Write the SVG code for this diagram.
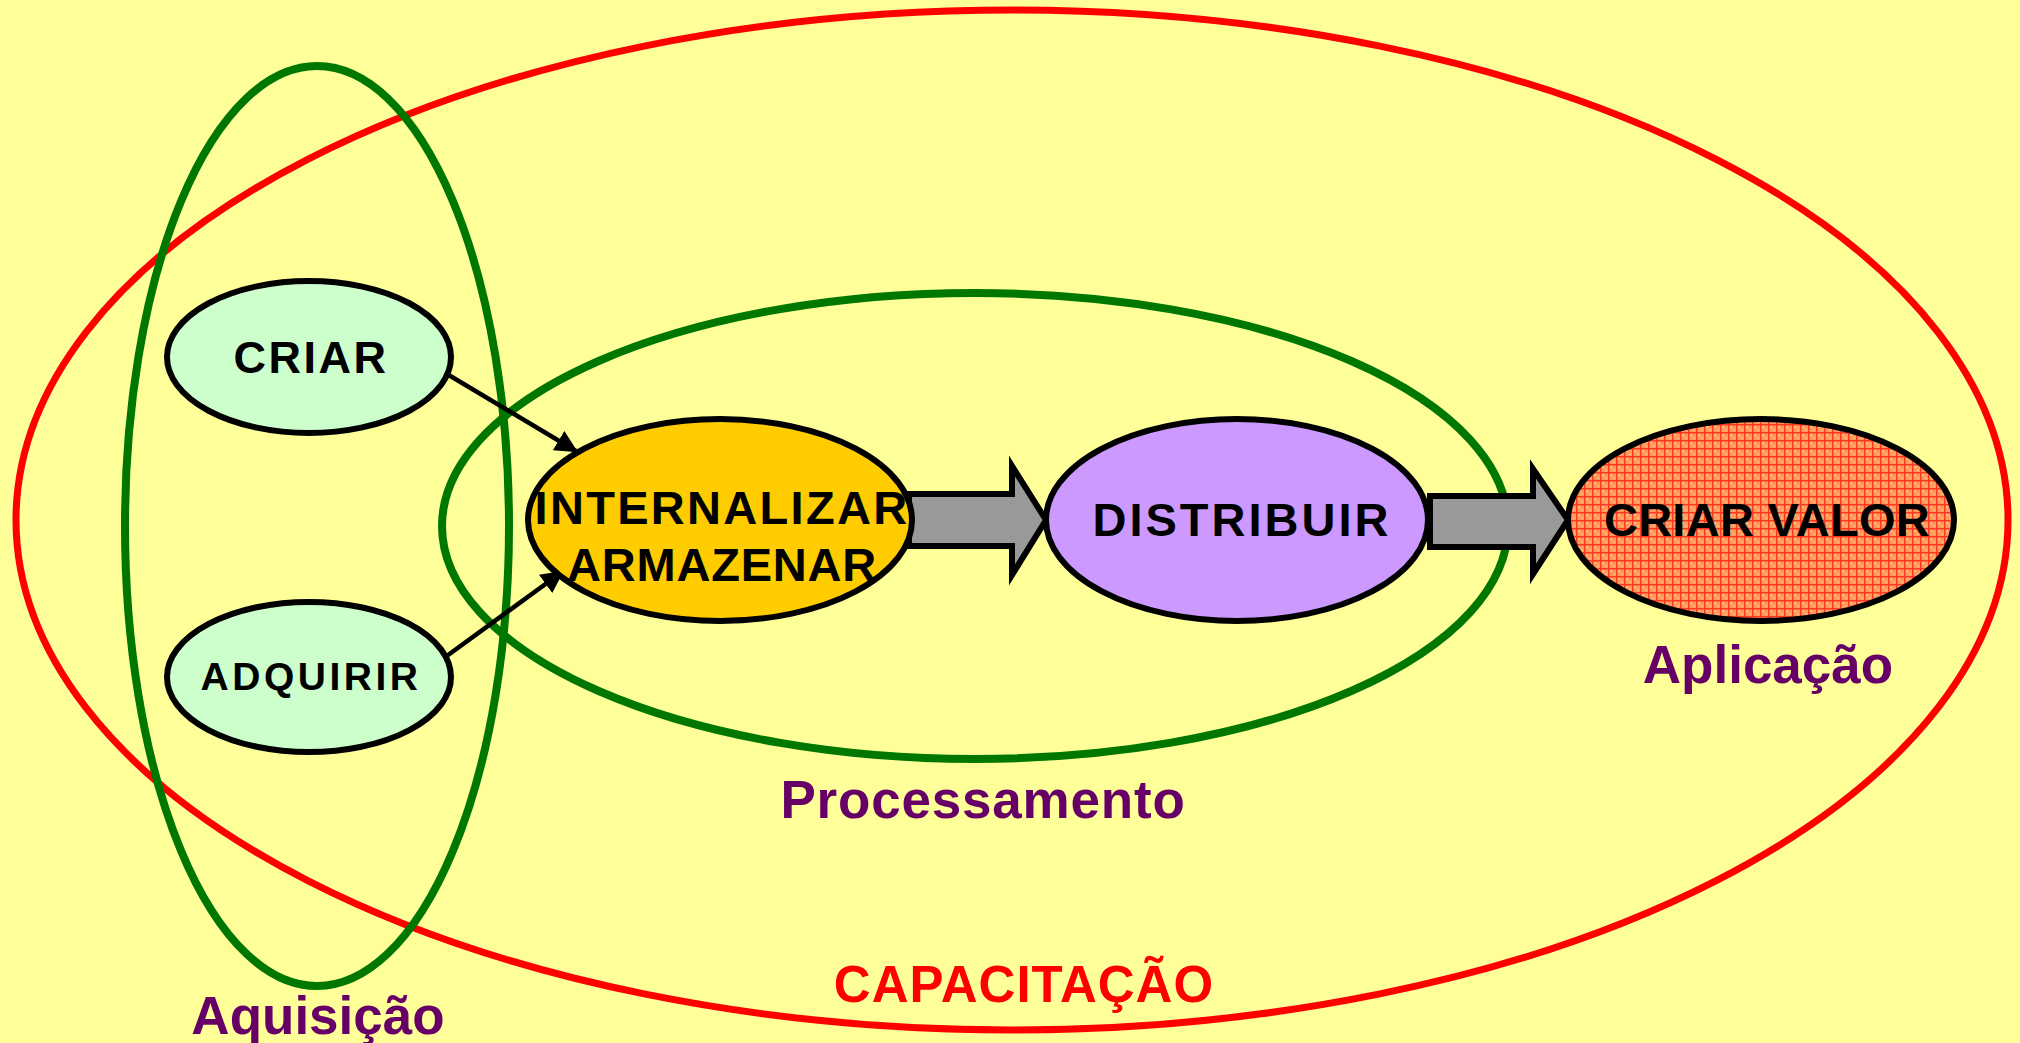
<svg xmlns="http://www.w3.org/2000/svg" width="2020" height="1043" viewBox="0 0 2020 1043">
  <defs>
    <pattern id="grid" width="8" height="8" patternUnits="userSpaceOnUse">
      <rect width="8" height="8" fill="#FF9960"/>
      <rect x="2" y="2" width="2" height="2" fill="#FFC070"/>
      <rect x="5" y="5" width="2" height="2" fill="#FFB868"/>
      <rect x="0" y="0" width="8" height="1.5" fill="#FF3A22"/>
      <rect x="0" y="0" width="1.5" height="8" fill="#FF3A22"/>
    </pattern>
    <marker id="ah" viewBox="0 0 10 10" refX="9" refY="5" markerWidth="5" markerHeight="5" orient="auto" markerUnits="strokeWidth">
      <path d="M0,0 L10,5 L0,10 z" fill="#000"/>
    </marker>
    <style>
      .node { stroke: #000; stroke-width: 6; }
      .lbl { font-family: "Liberation Sans", Arial, sans-serif; font-weight: bold; text-anchor: middle; fill: #000; }
      .grp { font-family: "Liberation Sans", Arial, sans-serif; font-weight: bold; text-anchor: middle; fill: #660066; font-size: 53px; }
      .ring { fill: none; }
      .conn { stroke: #000; stroke-width: 4.5; fill: none; }
      .block { fill: #999999; stroke: #000; stroke-width: 6; stroke-linejoin: miter; }
    </style>
  </defs>
  <rect width="2020" height="1043" fill="#FFFF99"/>

  <g id="capacitacao">
    <ellipse class="ring" cx="1012" cy="520" rx="996" ry="510" stroke="#FF0000" stroke-width="7"/>
    <text x="1024" y="1002" font-family="Liberation Sans, Arial, sans-serif" font-weight="bold" font-size="51" text-anchor="middle" fill="#FF0000" letter-spacing="1">CAPACITAÇÃO</text>
  </g>

  <g id="aquisicao">
    <ellipse class="ring" cx="317" cy="526" rx="192" ry="460" stroke="#007700" stroke-width="8"/>
    <text class="grp" x="318" y="1034">Aquisição</text>
  </g>

  <g id="processamento">
    <ellipse class="ring" cx="975" cy="526" rx="533" ry="233" stroke="#007700" stroke-width="8"/>
    <text class="grp" x="983" y="818" letter-spacing="0.8">Processamento</text>
  </g>

  <g id="aplicacao">
    <text class="grp" x="1768" y="683">Aplicação</text>
  </g>

  <g id="connectors">
    <line class="conn" x1="447" y1="374" x2="576" y2="451" marker-end="url(#ah)"/>
    <line class="conn" x1="444" y1="658" x2="562" y2="572" marker-end="url(#ah)"/>
    <path class="block" d="M909,494 L1012,494 L1012,466 L1046,520 L1012,575 L1012,546 L909,546 Z"/>
    <path class="block" d="M1430,496 L1533,496 L1533,469 L1568,520 L1533,574 L1533,547 L1430,547 Z"/>
  </g>

  <g id="criar">
    <ellipse class="node" cx="309" cy="357" rx="142" ry="76" fill="#CCFFCC"/>
    <text class="lbl" x="311" y="373" font-size="45" letter-spacing="2.5">CRIAR</text>
  </g>

  <g id="adquirir">
    <ellipse class="node" cx="309" cy="677" rx="142" ry="75" fill="#CCFFCC"/>
    <text class="lbl" x="311" y="690" font-size="39" letter-spacing="3.5">ADQUIRIR</text>
  </g>

  <g id="internalizar">
    <ellipse class="node" cx="720" cy="520" rx="192" ry="101" fill="#FFCC00"/>
    <text class="lbl" x="722" y="524" font-size="47" letter-spacing="2.3">INTERNALIZAR</text>
    <text class="lbl" x="722" y="581" font-size="47" letter-spacing="0.8">ARMAZENAR</text>
  </g>

  <g id="distribuir">
    <ellipse class="node" cx="1237" cy="520" rx="191" ry="101" fill="#CC99FF"/>
    <text class="lbl" x="1242" y="536" font-size="47" letter-spacing="3">DISTRIBUIR</text>
  </g>

  <g id="criar-valor">
    <ellipse class="node" cx="1761" cy="520" rx="193" ry="101" fill="url(#grid)"/>
    <text class="lbl" x="1767" y="536" font-size="47" letter-spacing="0.3">CRIAR VALOR</text>
  </g>
</svg>
